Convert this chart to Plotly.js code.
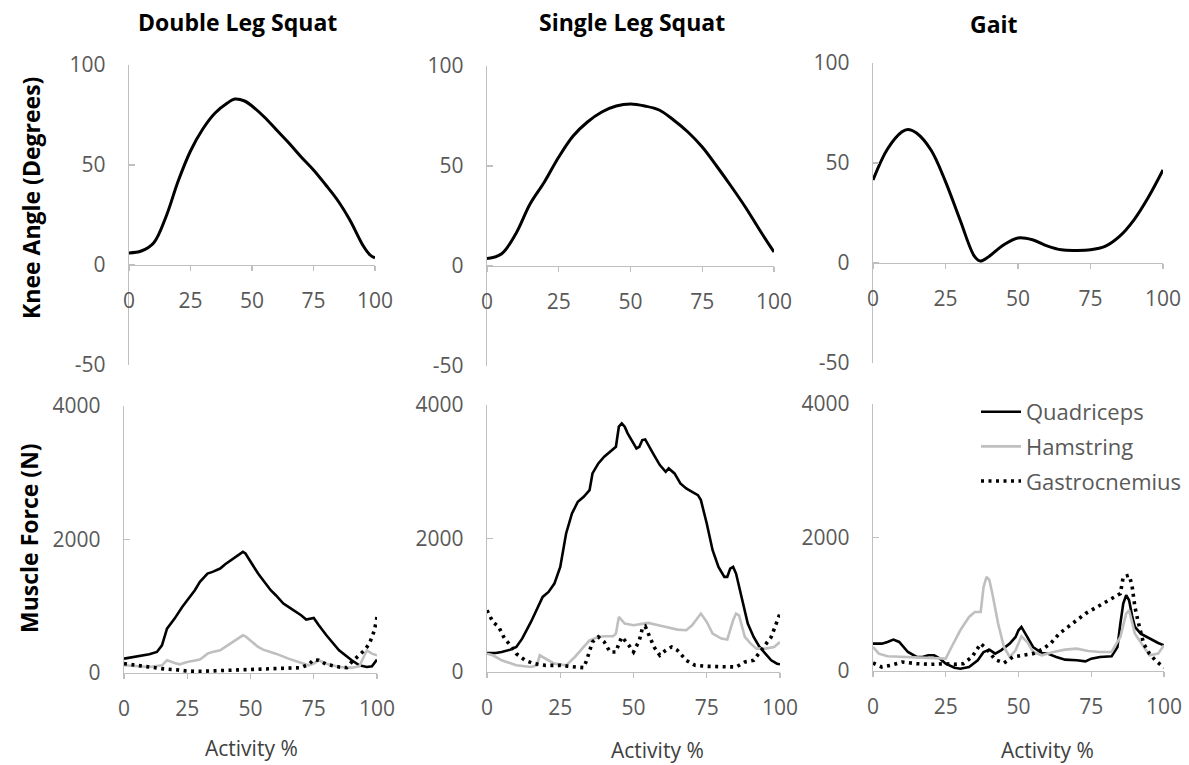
<!DOCTYPE html>
<html>
<head>
<meta charset="utf-8">
<script src="https://cdn.plot.ly/plotly-3.0.1.min.js"></script>
<style>html,body{margin:0;padding:0;background:#fff}#chart{width:1189px;height:765px}</style>
</head>
<body>
<div id="chart"></div>
<script>
// ---------- DATA ----------
const columnTitles = ["Double Leg Squat", "Single Leg Squat", "Gait"];
const seriesNames = ["Quadriceps", "Hamstring", "Gastrocnemius"];
const xTickVals = [0, 25, 50, 75, 100];
const angleTickVals = [-50, 0, 50, 100];
const angleTickText = ["-50", "0", "50", "100"];
const forceTickVals = [0, 2000, 4000];
const forceTickText = ["0", "2000", "4000"];

// Knee angle (degrees)
const dlsAngleX = [0,5,10,15,20,25,30,35,40,43,47,50,55,60,65,70,75,80,85,90,95,98,100];
const dlsAngle  = [6,7,11,24,42,57,68,76,81,83,82,79.5,74,67.5,61,54,47.5,40,32,22,10,5,3.5];
const slsAngleX = [0,5,10,15,20,25,30,35,40,45,50,55,60,65,70,75,80,85,90,95,100];
const slsAngle  = [3.7,6,16,31,42,54.5,65,72,77,80,81,80,78,73,67,59.5,50,40,29.5,18,7];
const gaitAngleX = [0,5,10,12,15,20,25,30,35,37,40,45,50,55,60,65,70,75,80,85,90,95,100];
const gaitAngle  = [41.5,57,65.6,66.8,65,56.5,40.7,21.6,3.3,1,3.3,9,12.5,11.6,8.6,6.6,6.3,6.6,8.3,13.3,21.6,33,46.5];

// Muscle force (N) - Double Leg Squat
const dlsQuadX = [0,5,10,13,15,17,20,23,25,28,30,33,35,38,40,43,46,47,48,50,53,55,58,60,63,65,68,70,72,74,75,77,80,85,90,93,96,98,100];
const dlsQuad  = [215,250,280,315,415,665,815,990,1090,1240,1365,1490,1515,1565,1630,1715,1800,1815,1790,1665,1490,1390,1240,1165,1040,990,915,865,800,815,825,715,565,340,190,115,90,100,200];
const dlsHamX = [0,5,10,15,17,20,22,25,30,33,35,38,40,43,46,47,48,50,53,55,60,65,70,73,75,77,80,85,90,93,96,98,100];
const dlsHam  = [115,100,90,115,190,150,130,165,200,290,315,340,390,465,550,565,550,490,390,350,290,215,150,115,140,190,140,90,80,100,340,290,265];
const dlsGasX = [0,5,10,15,20,25,30,40,50,60,70,73,75,77,80,85,88,90,92,95,97,99,100];
const dlsGas  = [140,115,80,65,50,30,25,40,50,60,80,130,200,190,130,90,80,165,240,340,440,640,840];

// Muscle force (N) - Single Leg Squat
const slsQuadX = [0,3,5,8,10,12,15,17,19,21,23,25,27,29,31,33,35,36,38,40,42,44,45,46,47,48,50,51,52,53,54,55,57,59,61,62,64,66,68,70,72,73,75,77,79,81,82,83,84,85,87,89,91,93,95,97,99,100];
const slsQuad  = [285,285,300,335,375,500,750,925,1125,1200,1325,1575,2075,2375,2550,2625,2725,2975,3125,3225,3300,3375,3675,3725,3675,3575,3425,3350,3375,3475,3485,3400,3250,3100,3000,3050,2975,2825,2750,2700,2650,2575,2225,1825,1575,1425,1425,1550,1575,1475,1075,725,525,375,275,175,125,115];
const slsHamX = [0,2,5,10,15,17,18,20,23,27,30,33,35,38,40,43,44,45,47,50,53,55,60,65,68,70,73,75,77,80,82,84,85,86,88,90,92,95,98,100];
const slsHam  = [275,250,175,100,75,100,250,200,125,100,225,375,475,525,535,535,575,825,725,700,725,735,685,635,625,700,875,750,575,500,485,775,875,850,525,425,350,350,375,450];
const slsGasX = [0,2,4,6,8,10,13,16,20,25,28,31,33,34,35,36,38,40,42,44,45,46,48,50,52,53,54,55,57,59,61,63,65,68,71,75,80,85,88,91,94,97,100];
const slsGas  = [925,750,675,500,400,275,175,125,100,100,85,75,65,175,325,450,525,450,300,300,425,525,425,300,475,650,685,575,375,250,325,375,325,175,100,85,75,75,150,175,350,525,875];

// Muscle force (N) - Gait
const gaitQuadX = [0,3,5,7,9,12,15,17,19,21,23,25,28,30,33,36,38,40,42,44,47,49,50,51,53,55,58,60,63,66,70,73,75,78,82,84,85,86,87,88,89,90,92,95,98,100];
const gaitQuad  = [410,410,435,470,435,285,210,210,235,235,185,110,50,35,60,160,285,320,260,310,410,510,610,660,510,360,270,260,210,170,160,145,185,210,220,360,710,1010,1135,1060,835,660,560,485,420,385];
const gaitHamX = [0,2,5,10,15,20,25,27,30,33,35,37,38,39,40,41,43,45,47,49,51,53,55,58,62,66,70,74,78,82,85,87,88,90,92,95,98,100];
const gaitHam  = [360,260,220,210,210,200,185,360,610,810,885,885,1260,1410,1360,1160,710,360,210,310,520,435,285,235,285,320,335,300,285,285,510,860,910,560,435,235,260,385];
const gaitGasX = [0,3,6,10,15,20,25,28,31,34,37,39,42,45,48,51,55,58,61,64,67,70,73,76,79,82,85,86,88,89,90,91,93,95,97,100];
const gaitGas  = [120,60,85,135,110,100,110,100,110,210,410,335,170,120,210,235,260,320,410,560,660,770,860,935,1010,1085,1160,1410,1435,1285,960,760,410,260,160,50];

// ---------- LAYOUT / STYLE ----------
const W = 1189, H = 765;
const FONT = "'Open Sans', 'Noto Sans', sans-serif";
const TICKC = "#595959", AXC = "#bfbfbf";
const px = v => v / W, py = v => 1 - v / H;

// pixel boxes [left, right, top, bottom, zeroY]
const topBoxes = [[129,375,65,365,265],[487,774,66,366,266],[873,1163,63,363,263]];
const botBoxes = [[124,377,406,673],[487,780,405,672],[873,1164,404,671]];

const styles = [
  {color:"#000000", width:2.6, dash:"solid"},
  {color:"#bfbfbf", width:2.6, dash:"solid"},
  {color:"#000000", width:3.6, dash:"3px,4.5px"}
];

const angleData = [[dlsAngleX,dlsAngle],[slsAngleX,slsAngle],[gaitAngleX,gaitAngle]];
const forceData = [
  [[dlsQuadX,dlsQuad],[dlsHamX,dlsHam],[dlsGasX,dlsGas]],
  [[slsQuadX,slsQuad],[slsHamX,slsHam],[slsGasX,slsGas]],
  [[gaitQuadX,gaitQuad],[gaitHamX,gaitHam],[gaitGasX,gaitGas]]
];

const traces = [];
const layout = {
  width: W, height: H,
  margin: {l:0, r:0, t:0, b:0},
  paper_bgcolor: "#fff", plot_bgcolor: "rgba(0,0,0,0)",
  font: {family: FONT, color: TICKC, size: 21},
  showlegend: true,
  legend: {
    x: px(976), y: py(391), xanchor: "left", yanchor: "top",
    font: {family: FONT, size: 22, color: TICKC},
    bgcolor: "rgba(0,0,0,0)", borderwidth: 0,
    traceorder: "grouped", tracegroupgap: 3, itemwidth: 40
  },
  annotations: [], shapes: []
};

function axBase() {
  return {
    showgrid: false, zeroline: false, showline: true, linecolor: AXC, linewidth: 1.2,
    tickcolor: AXC, tickwidth: 1.2, tickfont: {family: FONT, size: 21, color: TICKC},
    fixedrange: true
  };
}

// top row: knee angle
for (let i = 0; i < 3; i++) {
  const n = i + 1;
  const b = topBoxes[i];
  const sfx = n === 1 ? "" : String(n);
  layout["xaxis" + sfx] = Object.assign(axBase(), {
    domain: [px(b[0]), px(b[1])], range: [0, 100],
    anchor: "free", position: py(b[4]),
    tickmode: "array", tickvals: xTickVals, ticktext: xTickVals.map(String),
    ticks: "outside", ticklen: 5, ticklabelstandoff: 12
  });
  layout["yaxis" + sfx] = Object.assign(axBase(), {
    domain: [py(b[3]), py(b[2])], range: [-50, 100], anchor: "x" + sfx,
    tickmode: "array", tickvals: angleTickVals, ticktext: angleTickText,
    ticks: "inside", ticklen: 6, ticklabelstandoff: 18
  });
  traces.push({
    type: "scatter", mode: "lines", x: angleData[i][0], y: angleData[i][1],
    xaxis: "x" + sfx, yaxis: "y" + sfx,
    line: {color: "#000", width: 3, shape: "spline", smoothing: 1},
    showlegend: false, hoverinfo: "skip"
  });
}

// bottom row: muscle force
for (let i = 0; i < 3; i++) {
  const n = i + 4;
  const b = botBoxes[i];
  layout["xaxis" + n] = Object.assign(axBase(), {
    domain: [px(b[0]), px(b[1])], range: [0, 100], anchor: "y" + n,
    tickmode: "array", tickvals: xTickVals, ticktext: xTickVals.map(String),
    ticks: "outside", ticklen: 5, ticklabelstandoff: 12
  });
  layout["yaxis" + n] = Object.assign(axBase(), {
    domain: [py(b[3]), py(b[2])], range: [0, 4000], anchor: "x" + n,
    tickmode: "array", tickvals: forceTickVals, ticktext: forceTickText,
    ticks: "inside", ticklen: 6, ticklabelstandoff: 18
  });
  for (let s = 0; s < 3; s++) {
    traces.push({
      type: "scatter", mode: "lines",
      x: forceData[i][s][0], y: forceData[i][s][1],
      xaxis: "x" + n, yaxis: "y" + n,
      name: seriesNames[s], legendgroup: seriesNames[s],
      showlegend: i === 2,
      line: {color: styles[s].color, width: styles[s].width, dash: styles[s].dash},
      hoverinfo: "skip"
    });
  }
}

// column titles
const titlePos = [[237,22],[632,22],[994,24]];
columnTitles.forEach((t, i) => {
  layout.annotations.push({
    text: "<b>" + t + "</b>", xref: "paper", yref: "paper",
    x: px(titlePos[i][0]), y: py(titlePos[i][1]), xanchor: "center", yanchor: "middle",
    showarrow: false, font: {family: FONT, size: 23, color: "#000"}
  });
});
// y-axis titles
layout.annotations.push({
  text: "<b>Knee Angle (Degrees)</b>", xref: "paper", yref: "paper",
  x: px(31), y: py(198), xanchor: "center", yanchor: "middle", textangle: -90,
  showarrow: false, font: {family: FONT, size: 23, color: "#000"}
});
layout.annotations.push({
  text: "<b>Muscle Force (N)</b>", xref: "paper", yref: "paper",
  x: px(29), y: py(538), xanchor: "center", yanchor: "middle", textangle: -90,
  showarrow: false, font: {family: FONT, size: 23, color: "#000"}
});
// x-axis titles
const actPos = [[251,748],[657,750],[1047,750]];
actPos.forEach(p => {
  layout.annotations.push({
    text: "Activity %", xref: "paper", yref: "paper",
    x: px(p[0]), y: py(p[1]), xanchor: "center", yanchor: "middle",
    showarrow: false, font: {family: FONT, size: 21, color: "#404040"}
  });
});

Plotly.newPlot("chart", traces, layout, {staticPlot: true, displayModeBar: false});
</script>
</body>
</html>
